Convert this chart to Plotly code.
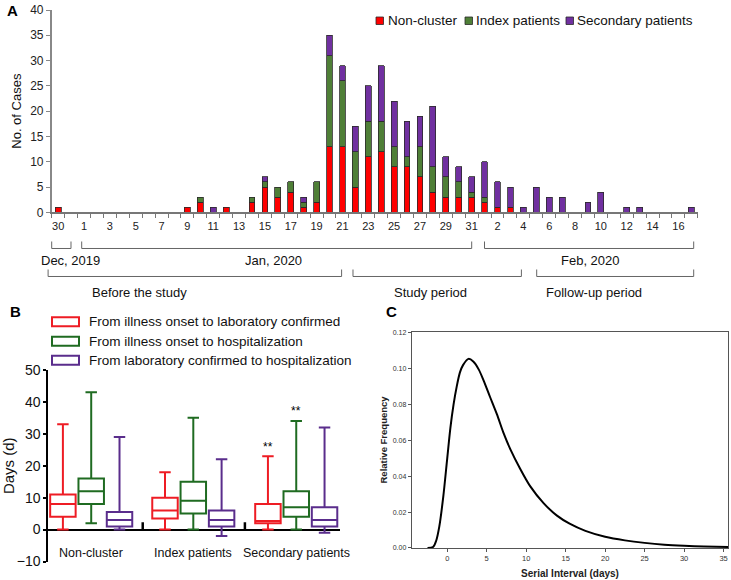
import plotly.graph_objects as go

W, H = 731, 580
def px(x): return x / W
def py(y): return 1 - y / H

REG = "Liberation Sans, Arial, sans-serif"

# ---------------- Panel A data ----------------
days = ["Dec 30", "Dec 31"] + ["Jan %d" % d for d in range(1, 32)] + ["Feb %d" % d for d in range(1, 18)]
tick_labels = ["30", "1", "3", "5", "7", "9", "11", "13", "15", "17", "19", "21", "23", "25",
               "27", "29", "31", "2", "4", "6", "8", "10", "12", "14", "16"]
non_cluster = [1, 0, 0, 0, 0, 0, 0, 0, 0, 0,
               1, 2, 0, 1, 0, 2, 5, 3, 4, 1,
               2, 13, 13, 5, 11, 12, 9, 9, 7, 4,
               3, 3, 3, 2, 1, 1, 0, 0, 0, 0,
               0, 0, 0, 0, 0, 0, 0, 0, 0, 0]
index_patients = [0, 0, 0, 0, 0, 0, 0, 0, 0, 0,
                  0, 1, 0, 0, 0, 1, 1, 2, 2, 1,
                  4, 18, 13, 7, 7, 6, 4, 2, 6, 5,
                  4, 3, 1, 1, 0, 0, 0, 0, 0, 0,
                  0, 0, 0, 0, 0, 0, 0, 0, 0, 0]
secondary_patients = [0, 0, 0, 0, 0, 0, 0, 0, 0, 0,
                      0, 0, 1, 0, 0, 0, 1, 0, 0, 1,
                      0, 4, 3, 5, 7, 11, 9, 7, 6, 12,
                      4, 3, 3, 7, 5, 4, 1, 5, 3, 3,
                      0, 2, 4, 0, 1, 1, 0, 0, 0, 1]
series_names = ["Non-cluster", "Index patients", "Secondary patients"]
colors_a = ["#ff0000", "#4f7f37", "#7030a0"]

# ---------------- Panel B data ----------------
groups = ["Non-cluster", "Index patients", "Secondary patients"]
intervals = ["From illness onset to laboratory confirmed",
             "From illness onset to hospitalization",
             "From laboratory confirmed to hospitalization"]
onset_lab_min = [0, 0, 0]
onset_lab_q1 = [4, 3.5, 2]
onset_lab_med = [8, 6, 2.7]
onset_lab_q3 = [11, 10, 8]
onset_lab_max = [33, 18, 23]
onset_hosp_min = [2, 0, 0]
onset_hosp_q1 = [8, 5, 4]
onset_hosp_med = [12, 9, 7]
onset_hosp_q3 = [16, 15, 12]
onset_hosp_max = [43, 35, 34]
lab_hosp_min = [0, -2, -1]
lab_hosp_q1 = [1, 1, 1]
lab_hosp_med = [3, 3, 3]
lab_hosp_q3 = [5.5, 6, 7]
lab_hosp_max = [29, 22, 32]
colors_b = ["#ee1c24", "#1f6b21", "#5a2d8c"]
stars = [("**", 2, 0, 26), ("**", 2, 1, 37)]  # (text, group idx, interval idx, y)

# ---------------- Panel C data ----------------
serial_days = [-2.5, -1.8, -1.4, -1.0, -0.5, 0.0, 0.4, 0.8, 1.2, 1.6, 2.0, 2.7, 3.3, 4.0, 4.6,
               5.4, 6.3, 7.1, 8.0, 9.2, 10.5, 12.2, 13.9, 15.5, 17.5, 20.0, 22.5, 25.0, 27.5,
               30.0, 32.5, 35.6]
rel_freq = [0.0, 0.0005, 0.004, 0.012, 0.0286, 0.050, 0.067, 0.080, 0.090, 0.0978, 0.102, 0.1055,
            0.104, 0.0995, 0.0935, 0.0845, 0.0745, 0.0645, 0.055, 0.0445, 0.0345, 0.025, 0.018,
            0.0135, 0.0095, 0.0062, 0.0042, 0.0028, 0.0018, 0.0012, 0.0008, 0.0005]

fig = go.Figure()

# ---- Panel A bars ----
xpos = list(range(len(days)))
for name, vals, col in zip(series_names, [non_cluster, index_patients, secondary_patients], colors_a):
    fig.add_trace(go.Bar(x=xpos, y=[v if v else None for v in vals], name=name,
                         marker=dict(color=col, line=dict(color="#2a2a2a", width=0.8)),
                         customdata=days, hovertemplate="%{customdata}: %{y}<extra>" + name + "</extra>",
                         xaxis="x", yaxis="y", showlegend=False))

# ---- Panel B boxes ----
group_centers = [1.0, 4.607, 8.244]
offsets = [-1, 0, 1]
stats = [(onset_lab_min, onset_lab_q1, onset_lab_med, onset_lab_q3, onset_lab_max),
         (onset_hosp_min, onset_hosp_q1, onset_hosp_med, onset_hosp_q3, onset_hosp_max),
         (lab_hosp_min, lab_hosp_q1, lab_hosp_med, lab_hosp_q3, lab_hosp_max)]
for k, (name, st, col) in enumerate(zip(intervals, stats, colors_b)):
    mn, q1, md, q3, mx = st
    fig.add_trace(go.Box(x=[c + offsets[k] for c in group_centers],
                         lowerfence=mn, q1=q1, median=md, q3=q3, upperfence=mx,
                         name=name, width=0.9, whiskerwidth=0.45,
                         line=dict(color=col, width=2), fillcolor="rgba(255,255,255,0)",
                         boxpoints=False, xaxis="x2", yaxis="y2", showlegend=False))

# ---- Panel C curve ----
fig.add_trace(go.Scatter(x=serial_days, y=rel_freq, mode="lines",
                         line=dict(color="black", width=2, shape="spline", smoothing=0.8),
                         xaxis="x3", yaxis="y3", showlegend=False))

shapes = []
ann = []

# Panel labels
for t, x, y in [("A", 5, 10), ("B", 8, 311), ("C", 384, 311)]:
    ann.append(dict(text="<b>%s</b>" % t, x=px(x), y=py(y), xref="paper", yref="paper",
                    showarrow=False, xanchor="left", yanchor="middle",
                    font=dict(family=REG, size=15, color="black")))

# Panel A legend
leg_a = [(376, 386), (465, 474), (566, 575)]
for (sx, tx), name, col in zip(leg_a, series_names, colors_a):
    shapes.append(dict(type="rect", xref="paper", yref="paper", x0=px(sx), x1=px(sx + 7.5),
                       y0=py(24.5), y1=py(17), fillcolor=col, line=dict(color="#2a2a2a", width=0.8)))
    ann.append(dict(text=name, x=px(tx), y=py(20.5), xref="paper", yref="paper", showarrow=False,
                    xanchor="left", yanchor="middle", font=dict(family=REG, size=13.5, color="#111")))

# Panel A brackets (pixel extents)
bracket_rows = [
    (241.5, 248.5, [(51.7, 71.0), (81.7, 471.7), (484.5, 693.7)]),
    (269.5, 276.5, [(48.1, 341.6), (353.0, 521.4), (536.7, 693.7)]),
]
for ytop, ybot, spans in bracket_rows:
    for x0, x1 in spans:
        shapes.append(dict(type="path", xref="paper", yref="paper",
                           path="M %f %f L %f %f L %f %f L %f %f" % (px(x0), py(ytop), px(x0), py(ybot),
                                                                    px(x1), py(ybot), px(x1), py(ytop)),
                           line=dict(color="#666", width=1)))
month_labels = [("Dec, 2019", 70, 260), ("Jan, 2020", 273, 260), ("Feb, 2020", 590, 260)]
period_labels = [("Before the study", 139.5, 292.5), ("Study period", 430.5, 292.5), ("Follow-up period", 594, 292.5)]
for t, x, y in month_labels + period_labels:
    ann.append(dict(text=t, x=px(x), y=py(y), xref="paper", yref="paper", showarrow=False,
                    xanchor="center", yanchor="middle", font=dict(family=REG, size=13, color="#111")))

# Panel B legend
for k, (name, col) in enumerate(zip(intervals, colors_b)):
    yc = [321.7, 341.3, 360.3][k]
    shapes.append(dict(type="rect", xref="paper", yref="paper", x0=px(52), x1=px(79),
                       y0=py(yc + 4.5), y1=py(yc - 4.5), line=dict(color=col, width=2)))
    ann.append(dict(text=name, x=px(87), y=py(yc), xref="paper", yref="paper", showarrow=False,
                    xanchor="left", yanchor="middle", font=dict(family=REG, size=13.5, color="#111")))

# Panel B group labels and separators
for g, c in zip(groups, group_centers):
    ann.append(dict(text=g, x=c, y=py(553), xref="x2", yref="paper", showarrow=False,
                    xanchor="center", yanchor="middle", font=dict(family=REG, size=12.5, color="#111")))
for sx in [2.82, 6.43]:
    shapes.append(dict(type="line", xref="x2", yref="y2", x0=sx, x1=sx, y0=0, y1=2.3,
                       line=dict(color="black", width=2.5)))
for t, gi, ki, yv in stars:
    ann.append(dict(text=t, x=group_centers[gi] + offsets[ki], y=yv, xref="x2", yref="y2",
                    showarrow=False, font=dict(family=REG, size=12, color="black")))

fig.update_layout(
    width=W, height=H, margin=dict(l=0, r=0, t=0, b=0, autoexpand=False),
    paper_bgcolor="white", plot_bgcolor="white",
    barmode="stack", bargap=0.55, showlegend=False,
    shapes=shapes, annotations=ann,
    xaxis=dict(domain=[px(51.7), px(697.8)], range=[-0.5, 49.5], anchor="y", automargin=False,
               tickmode="array", tickvals=list(range(0, 50, 2)), ticktext=tick_labels,
               ticks="", showline=True, linecolor="#777", linewidth=1.5,
               minor=dict(tickmode="array", tickvals=[i - 0.5 for i in range(51)], ticks="outside",
                          ticklen=4, tickcolor="#777", tickwidth=1, showgrid=False),
               tickfont=dict(family=REG, size=11, color="#222"), ticklabelstandoff=3,
               showgrid=False, zeroline=False, fixedrange=True),
    yaxis=dict(domain=[py(212.3), py(10)], range=[0, 40], anchor="x", dtick=5, automargin=False,
               showline=True, linecolor="#888", linewidth=1.5, ticks="outside", ticklen=4, tickcolor="#888",
               tickfont=dict(family=REG, size=12, color="#222"), showgrid=False, zeroline=False,
               title=dict(text="No. of Cases", font=dict(family=REG, size=13, color="#111"), standoff=6)),
    xaxis2=dict(domain=[px(48.3), px(340)], range=[-0.516, 9.79], anchor="y2", visible=False, automargin=False),
    yaxis2=dict(domain=[py(561.5), py(370)], range=[-10, 50], anchor="x2", automargin=False,
                tickmode="array", tickvals=[-10, 0, 10, 20, 30, 40, 50],
                showline=True, linecolor="black", linewidth=2, ticks="outside", ticklen=3, tickwidth=2,
                tickcolor="black", tickfont=dict(family=REG, size=14, color="#111"),
                showgrid=False, zeroline=True, zerolinecolor="black", zerolinewidth=2,
                title=dict(text="Days (d)", font=dict(family=REG, size=15, color="#111"), standoff=2)),
    xaxis3=dict(domain=[px(411.7), px(728.3)], range=[-4.5, 35.6], anchor="y3", automargin=False,
                tickmode="array", tickvals=[0, 5, 10, 15, 20, 25, 30, 35],
                showline=True, mirror=True, linecolor="#555", linewidth=1, ticks="outside", ticklen=3,
                tickcolor="#555", tickfont=dict(family=REG, size=7.5, color="#333"),
                showgrid=False, zeroline=False,
                title=dict(text="<b>Serial Interval (days)</b>", font=dict(family=REG, size=10, color="#222"), standoff=8)),
    yaxis3=dict(domain=[py(547.9), py(332)], range=[0, 0.1205], anchor="x3", automargin=False,
                tickmode="array", tickvals=[0, 0.02, 0.04, 0.06, 0.08, 0.10, 0.12], tickformat=".2f",
                showline=True, mirror=True, linecolor="#555", linewidth=1, ticks="outside", ticklen=3,
                tickcolor="#555", tickfont=dict(family=REG, size=7, color="#333"),
                showgrid=False, zeroline=False,
                title=dict(text="<b>Relative Frequency</b>", font=dict(family=REG, size=9.5, color="#222"), standoff=3)),
)

fig.write_html("out.html", config={"displayModeBar": False},
               post_script="document.documentElement.style.margin='0';"
                           "document.body.style.margin='0';document.body.style.overflow='hidden';")
